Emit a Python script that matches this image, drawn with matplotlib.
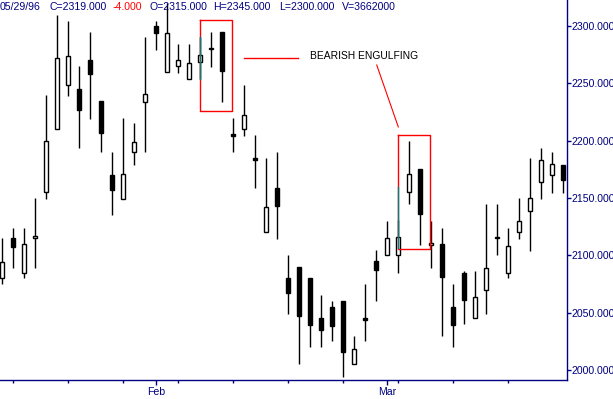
import matplotlib
matplotlib.use("Agg")
import matplotlib.pyplot as plt
import numpy as np

plt.rcParams["font.family"] = ["Liberation Sans", "DejaVu Sans"]

# OHLC for each trading day
opens = [2080, 2115, 2085, 2115, 2155, 2210, 2249, 2245, 2270, 2235,
         2170, 2149, 2190, 2234, 2300, 2260, 2265, 2254, 2269, 2280,
         2295, 2206, 2210, 2185, 2120, 2159, 2080, 2090, 2080, 2045,
         2055, 2060, 2005, 2045, 2095, 2100, 2100, 2155, 2175, 2109,
         2110, 2055, 2085, 2045, 2070, 2116, 2085, 2120, 2139, 2164,
         2170, 2179]
highs = [2115, 2124, 2124, 2150, 2240, 2310, 2304, 2265, 2295, 2235,
         2190, 2220, 2215, 2290, 2304, 2320, 2284, 2284, 2290, 2295,
         2295, 2220, 2249, 2205, 2185, 2190, 2100, 2090, 2080, 2065,
         2060, 2060, 2030, 2075, 2105, 2130, 2131, 2200, 2175, 2130,
         2124, 2075, 2086, 2086, 2145, 2145, 2124, 2150, 2185, 2194,
         2190, 2179]
lows = [2075, 2089, 2080, 2089, 2149, 2210, 2239, 2194, 2219, 2190,
        2135, 2149, 2179, 2190, 2279, 2260, 2259, 2254, 2254, 2264,
        2234, 2190, 2204, 2159, 2120, 2114, 2049, 2005, 2020, 2020,
        2025, 1994, 2005, 2025, 2060, 2100, 2085, 2145, 2109, 2089,
        2030, 2020, 2040, 2045, 2049, 2100, 2080, 2114, 2104, 2149,
        2154, 2154]
closes = [2094, 2107, 2110, 2117, 2200, 2272, 2274, 2227, 2258, 2207,
          2157, 2171, 2199, 2241, 2294, 2294, 2270, 2268, 2275, 2281,
          2261, 2204, 2222, 2183, 2142, 2143, 2067, 2047, 2039, 2035,
          2038, 2016, 2018, 2044, 2087, 2115, 2116, 2171, 2136, 2111,
          2081, 2039, 2061, 2064, 2089, 2115, 2108, 2130, 2150, 2183,
          2180, 2166]

month_pos = [14, 35]
month_labels = ["Feb", "Mar"]
week_pos = [1, 6, 11, 16, 21, 26, 31, 36, 41, 46]
price_ticks = [2000, 2050, 2100, 2150, 2200, 2250, 2300]

navy = "#000080"
px = 0.72  # one pixel in points at dpi 100

fig = plt.figure(figsize=(6.13, 3.99), dpi=100)
ax = fig.add_axes([0, 19 / 399, 566.7 / 613, 380 / 399])

x = np.arange(len(opens))
o = np.array(opens)
c = np.array(closes)
up = c >= o

ax.vlines(x, lows, highs, color="black", linewidth=1.0)
bottom = np.minimum(o, c)
height = np.maximum(np.abs(c - o), 1.2)
face = np.where(up, "white", "black")
ax.bar(x, height, bottom=bottom, width=0.38, color=face, edgecolor="black",
       linewidth=1.0, zorder=3)

# annotation boxes
ax.plot([18.0, 18.0, 20.9, 20.9, 18.0], [2305, 2226, 2226, 2305, 2305],
        color="red", linewidth=1.0, zorder=4)
ax.plot([18.0, 18.0], [2254, 2290], color="#008080", linewidth=1.0, zorder=5)
ax.plot([21.97, 26.9], [2272, 2272], color="red", linewidth=1.0)

ax.plot([36.0, 36.0, 38.9, 38.9, 36.0], [2205, 2105.5, 2105.5, 2205, 2205],
        color="red", linewidth=1.0, zorder=4)
ax.plot([36.0, 36.0], [2106, 2160], color="#008080", linewidth=1.0, zorder=5)
ax.plot([34.04, 36.0], [2266, 2212], color="red", linewidth=0.8)
ax.text(27.97, 2274, "BEARISH ENGULFING", fontsize=7.4, color="black",
        ha="left", va="center")

ax.set_xlim(-0.21, 51.31)
ax.set_ylim(1991.3, 2322.7)

for s in ["top", "left"]:
    ax.spines[s].set_visible(False)
for s in ["bottom", "right"]:
    ax.spines[s].set_color(navy)
    ax.spines[s].set_linewidth(1.0)

ax.yaxis.tick_right()
ax.set_yticks(price_ticks)
ax.set_yticklabels([f"{v:.3f}" for v in price_ticks])
ax.tick_params(axis="y", colors=navy, labelcolor=navy, length=4 * px,
               width=1.0, pad=1 * px, labelsize=7.6)

ax.set_xticks(month_pos)
ax.set_xticklabels(month_labels)
ax.set_xticks(week_pos, minor=True)
ax.tick_params(axis="x", which="major", colors=navy, labelcolor=navy,
               length=5 * px, width=1.0, pad=1.5, labelsize=7.6)
ax.tick_params(axis="x", which="minor", colors=navy, length=2.7 * px, width=1.0)

# header line
hdr_y = 1 - 7 / 399
fig.text(0 / 613, hdr_y, "05/29/96", color=navy, fontsize=7.6, va="center")
fig.text(49.3 / 613, hdr_y, "C=2319.000", color=navy, fontsize=7.6, va="center")
fig.text(112.7 / 613, hdr_y, "-4.000", color="red", fontsize=7.6, va="center")
fig.text(150 / 613, hdr_y, "O=2315.000", color=navy, fontsize=7.6, va="center")
fig.text(213.3 / 613, hdr_y, "H=2345.000", color=navy, fontsize=7.6, va="center")
fig.text(279.3 / 613, hdr_y, "L=2300.000", color=navy, fontsize=7.6, va="center")
fig.text(341.7 / 613, hdr_y, "V=3662000", color=navy, fontsize=7.6, va="center")

fig.savefig("out.png", dpi=100)
